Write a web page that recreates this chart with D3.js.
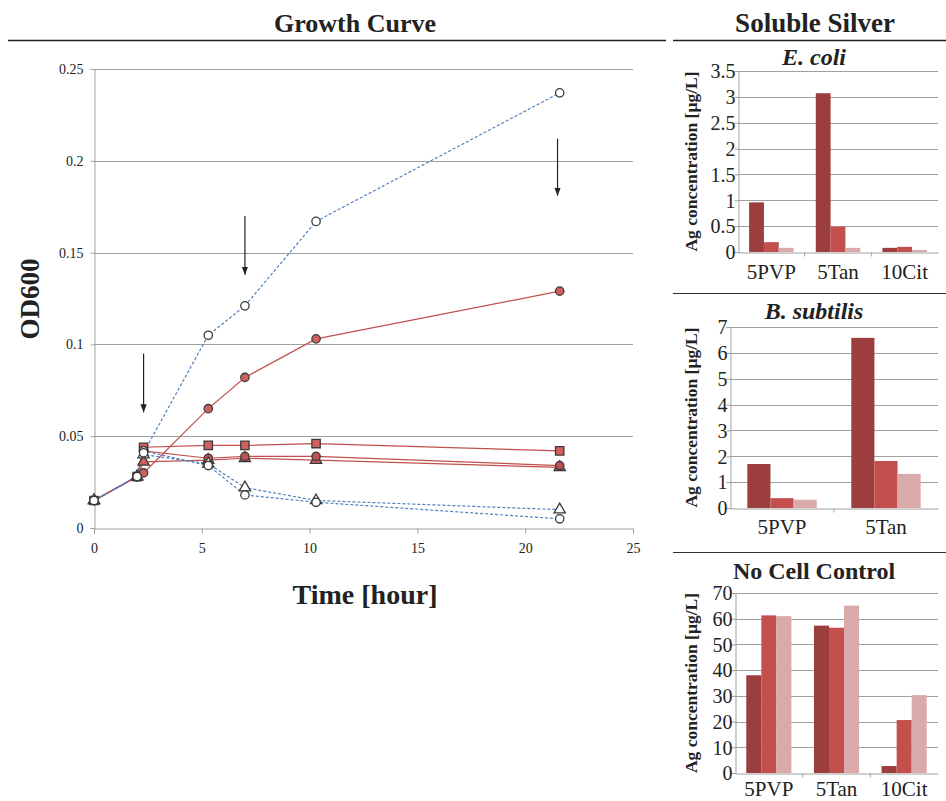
<!DOCTYPE html>
<html>
<head>
<meta charset="utf-8">
<script src="https://cdn.jsdelivr.net/npm/d3@7"></script>
<style>
  body { margin: 0; background: #fff; }
  text { font-family: "Liberation Serif", "DejaVu Serif", serif; fill: #222; }
</style>
</head>
<body>
<div id="chart"></div>
<script>
// growth curve data
const hours = [0, 2, 2.3, 5.3, 7, 10.3, 21.6];
const redCircle = [0.015, 0.028, 0.030, 0.065, 0.082, 0.103, 0.129];
const redSquare = [0.015, 0.028, 0.044, 0.045, 0.045, 0.046, 0.042];
const redTriangle = [0.015, 0.028, 0.036, 0.037, 0.038, 0.037, 0.033];
const redCircle2 = [0.015, 0.028, 0.042, 0.038, 0.039, 0.039, 0.034];
const blueCircle = [0.015, 0.028, 0.041, 0.105, 0.121, 0.167, 0.237];
const blueTriangle = [0.015, 0.028, 0.040, 0.035, 0.022, 0.015, 0.010];
const blueCircle2 = [0.015, 0.028, 0.042, 0.034, 0.018, 0.014, 0.005];
const odTicks = [0, 0.05, 0.1, 0.15, 0.2, 0.25];
const hourTicks = [0, 5, 10, 15, 20, 25];
// arrows: [hour, from OD, to OD]
const arrows = [[2.3, 0.095, 0.063], [7, 0.170, 0.138], [21.5, 0.212, 0.181]];

// soluble silver data
const ecoliCats = ['5PVP', '5Tan', '10Cit'];
const ecoliVals = [[0.96, 0.19, 0.08], [3.07, 0.49, 0.08], [0.08, 0.10, 0.04]];
const ecoliTicks = [0, 0.5, 1, 1.5, 2, 2.5, 3, 3.5];
const bsubCats = ['5PVP', '5Tan'];
const bsubVals = [[1.70, 0.38, 0.32], [6.58, 1.82, 1.32]];
const bsubTicks = [0, 1, 2, 3, 4, 5, 6, 7];
const nccCats = ['5PVP', '5Tan', '10Cit'];
const nccVals = [[38, 61.3, 61.0], [57.3, 56.5, 65.1], [2.7, 20.6, 30.3]];
const nccTicks = [0, 10, 20, 30, 40, 50, 60, 70];
const barColors = ['#9b3e3d', '#c4504e', '#d9aaa9'];

const serif = '"Liberation Serif", "DejaVu Serif", serif';

const svg = d3.select('#chart').append('svg')
  .attr('width', 946)
  .attr('height', 801);

svg.append('defs').append('marker')
  .attr('id', 'arrow')
  .attr('viewBox', '0 0 10 10')
  .attr('refX', 10).attr('refY', 5)
  .attr('markerWidth', 8).attr('markerHeight', 8)
  .attr('markerUnits', 'userSpaceOnUse')
  .attr('orient', 'auto')
  .append('path')
    .attr('d', 'M0,1 L10,5 L0,9 Z')
    .attr('fill', '#222');

// ---- headers ----
svg.append('text').attr('x', 355).attr('y', 32).attr('text-anchor', 'middle')
  .style('font-size', '26px').style('font-weight', 'bold').text('Growth Curve');
svg.append('line').attr('x1', 8).attr('x2', 666).attr('y1', 40.5).attr('y2', 40.5)
  .attr('stroke', '#222').attr('stroke-width', 1.5);
svg.append('text').attr('x', 815).attr('y', 32).attr('text-anchor', 'middle')
  .style('font-size', '27px').style('font-weight', 'bold').text('Soluble Silver');
svg.append('line').attr('x1', 673).attr('x2', 946).attr('y1', 40.5).attr('y2', 40.5)
  .attr('stroke', '#222').attr('stroke-width', 1.5);
svg.append('line').attr('x1', 673).attr('x2', 946).attr('y1', 293.5).attr('y2', 293.5)
  .attr('stroke', '#333').attr('stroke-width', 1);
svg.append('line').attr('x1', 673).attr('x2', 946).attr('y1', 552.5).attr('y2', 552.5)
  .attr('stroke', '#333').attr('stroke-width', 1);

// ---- growth curve ----
const x = d3.scaleLinear().domain([0, 25]).range([94, 633]);
const y = d3.scaleLinear().domain([0, 0.25]).range([528, 69]);

svg.append('g')
  .selectAll('line')
  .data(odTicks.slice(1))
  .join('line')
    .attr('x1', x(0)).attr('x2', x(25))
    .attr('y1', d => Math.round(y(d)) + 0.5).attr('y2', d => Math.round(y(d)) + 0.5)
    .attr('stroke', '#a0a0a0');

const yAxis = svg.append('g')
  .attr('transform', `translate(${x(0) + 0.5},0)`)
  .call(d3.axisLeft(y).tickValues(odTicks).tickSize(4).tickFormat(d => d));
const xAxis = svg.append('g')
  .attr('transform', `translate(0,${y(0) + 0.5})`)
  .call(d3.axisBottom(x).tickValues(hourTicks).tickSize(5).tickFormat(d => d));
[yAxis, xAxis].forEach(a => {
  a.attr('font-family', serif);
  a.select('.domain').attr('stroke', '#a0a0a0');
  a.selectAll('.tick line').attr('stroke', '#a0a0a0');
  a.selectAll('.tick text').style('font-size', '14px')
    .style('font-family', serif).attr('fill', '#222');
});
yAxis.selectAll('.tick text').attr('x', -11);
xAxis.selectAll('.tick text').attr('y', 15);

svg.append('text')
  .attr('transform', 'translate(39,299) rotate(-90)')
  .attr('text-anchor', 'middle')
  .style('font-size', '27px').style('font-weight', 'bold').text('OD600');
svg.append('text').attr('x', 365).attr('y', 604).attr('text-anchor', 'middle')
  .style('font-size', '28px').style('font-weight', 'bold').text('Time [hour]');

const series = [
  {vals: redSquare, color: '#c0504d', dash: null, fill: '#d0605c', shape: d3.symbolSquare},
  {vals: redTriangle, color: '#c0504d', dash: null, fill: '#d0605c', shape: d3.symbolTriangle},
  {vals: redCircle2, color: '#c0504d', dash: null, fill: '#b95452', shape: d3.symbolCircle},
  {vals: redCircle, color: '#c0504d', dash: null, fill: '#d0605c', shape: d3.symbolCircle},
  {vals: blueTriangle, color: '#4f81bd', dash: '3 2', fill: '#fff', shape: d3.symbolTriangle},
  {vals: blueCircle2, color: '#4f81bd', dash: '3 2', fill: '#fff', shape: d3.symbolCircle},
  {vals: blueCircle, color: '#4f81bd', dash: '3 2', fill: '#fff', shape: d3.symbolCircle}
];

const line = d3.line().x(d => x(d[0])).y(d => y(d[1]));

series.forEach(s => {
  const pts = hours.map((h, i) => [h, s.vals[i]]);
  svg.append('path')
    .datum(pts)
    .attr('d', line)
    .attr('fill', 'none')
    .attr('stroke', s.color)
    .attr('stroke-width', 1.2)
    .attr('stroke-dasharray', s.dash);
});
series.forEach(s => {
  const pts = hours.map((h, i) => [h, s.vals[i]]);
  svg.append('g')
    .selectAll('path')
    .data(pts)
    .join('path')
      .attr('transform', d => `translate(${x(d[0])},${y(d[1])})`)
      .attr('d', d3.symbol().type(s.shape).size(s.shape === d3.symbolSquare ? 70 : 55))
      .attr('fill', s.fill)
      .attr('stroke', '#3a3a3a')
      .attr('stroke-width', 1.3);
});

svg.append('g')
  .selectAll('line')
  .data(arrows)
  .join('line')
    .attr('x1', d => x(d[0])).attr('x2', d => x(d[0]))
    .attr('y1', d => y(d[1])).attr('y2', d => y(d[2]))
    .attr('stroke', '#222').attr('stroke-width', 1.2)
    .attr('marker-end', 'url(#arrow)');

// ---- bar panels ----
function barPanel(opts) {
  const {cats, vals, ticks, top, bottom, left, title, titleY, labelY, italic} = opts;
  const right = 938;
  const ys = d3.scaleLinear().domain([0, ticks[ticks.length - 1]]).range([bottom, top]);
  const xs = d3.scaleBand().domain(cats).range([left, right]).paddingInner(0.333).paddingOuter(0.1667);
  const xi = d3.scaleBand().domain([0, 1, 2]).range([0, xs.bandwidth()]);
  const g = svg.append('g');

  g.selectAll('.grid')
    .data(ticks.slice(1))
    .join('line')
      .attr('x1', left).attr('x2', right)
      .attr('y1', d => Math.round(ys(d)) + 0.5).attr('y2', d => Math.round(ys(d)) + 0.5)
      .attr('stroke', '#a0a0a0');

  g.selectAll('.grp')
    .data(vals)
    .join('g')
      .attr('transform', (d, i) => `translate(${xs(cats[i])},0)`)
    .selectAll('rect')
    .data(d => d)
    .join('rect')
      .attr('x', (d, j) => xi(j))
      .attr('width', xi.bandwidth())
      .attr('y', d => ys(d))
      .attr('height', d => bottom - ys(d))
      .attr('fill', (d, j) => barColors[j]);

  const ya = g.append('g')
    .attr('transform', `translate(${left + 0.5},0)`)
    .attr('font-family', serif)
    .call(d3.axisLeft(ys).tickValues(ticks).tickSize(4).tickFormat(d => d));
  const full = d3.scaleBand().domain(cats).range([left, right]);
  const xa = g.append('g')
    .attr('transform', `translate(0,${bottom + 0.5})`)
    .attr('font-family', serif)
    .call(d3.axisBottom(full).tickSize(0));
  xa.select('.domain').attr('stroke', '#a0a0a0');
  ya.select('.domain').attr('stroke', '#a0a0a0');
  ya.selectAll('.tick line').attr('stroke', '#a0a0a0');
  ya.selectAll('.tick text').attr('x', -3).attr('dy', '0.34em').style('font-size', '20px')
    .style('font-family', serif).attr('fill', '#222');
  xa.selectAll('.tick text').attr('y', labelY - bottom).attr('dy', 0).style('font-size', '21px')
    .style('font-family', serif).attr('fill', '#222');
  // boundary ticks between categories
  xa.selectAll('.sep')
    .data(cats.slice(1))
    .join('line')
      .attr('x1', d => full(d)).attr('x2', d => full(d))
      .attr('y1', 0).attr('y2', 4)
      .attr('stroke', '#a0a0a0');

  g.append('text')
    .attr('transform', `translate(697,${(top + bottom) / 2}) rotate(-90)`)
    .attr('text-anchor', 'middle')
    .style('font-size', '17.5px').style('font-weight', 'bold')
    .text('Ag concentration [µg/L]');

  g.append('text')
    .attr('x', 814).attr('y', titleY)
    .attr('text-anchor', 'middle')
    .style('font-size', '24px').style('font-weight', 'bold')
    .style('font-style', italic ? 'italic' : 'normal')
    .text(title);
}

barPanel({cats: ecoliCats, vals: ecoliVals, ticks: ecoliTicks, top: 71, bottom: 252, left: 738,
  title: 'E. coli', titleY: 65, labelY: 278, italic: true});
barPanel({cats: bsubCats, vals: bsubVals, ticks: bsubTicks, top: 327, bottom: 508, left: 730,
  title: 'B. subtilis', titleY: 319, labelY: 533, italic: true});
barPanel({cats: nccCats, vals: nccVals, ticks: nccTicks, top: 593, bottom: 773, left: 735,
  title: 'No Cell Control', titleY: 579, labelY: 795, italic: false});
</script>
</body>
</html>
